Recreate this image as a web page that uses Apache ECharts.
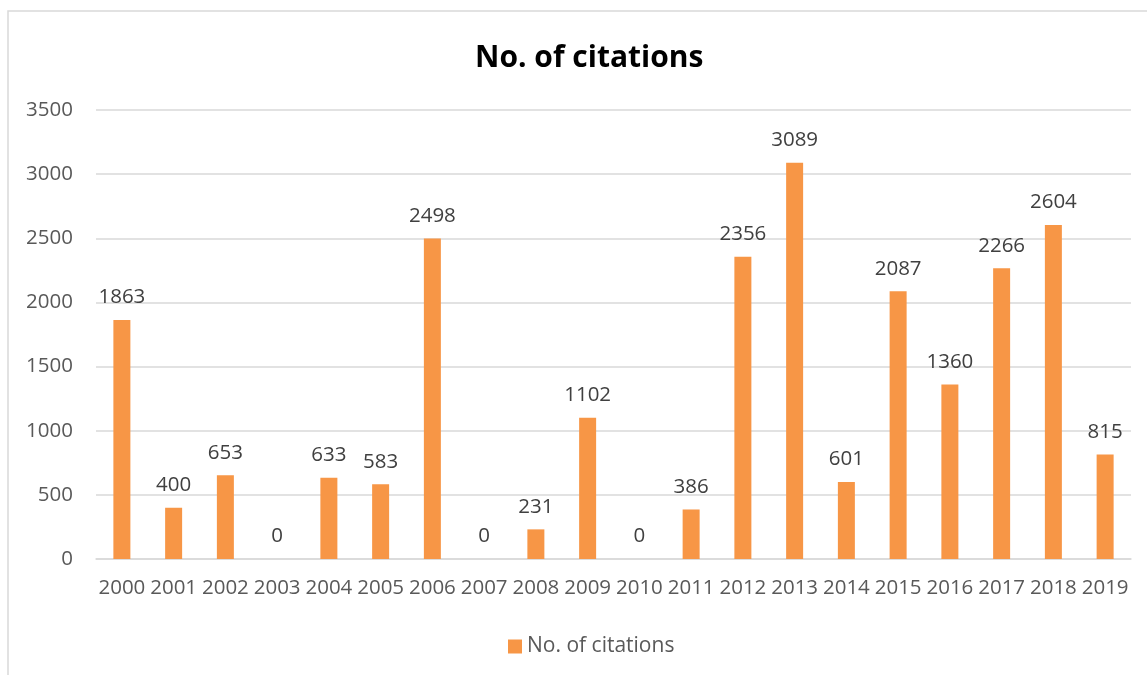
<!DOCTYPE html>
<html>
<head>
<meta charset="utf-8">
<script src="https://cdn.jsdelivr.net/npm/echarts@6/dist/echarts.min.js"></script>
<style>
  html, body { margin: 0; padding: 0; background: #fff; }
  #chart { width: 1147px; height: 675px; }
</style>
</head>
<body>
<div id="chart"></div>
<script>
// data
const years = ['2000', '2001', '2002', '2003', '2004', '2005', '2006', '2007', '2008', '2009',
  '2010', '2011', '2012', '2013', '2014', '2015', '2016', '2017', '2018', '2019'];
const citations = [1863, 400, 653, 0, 633, 583, 2498, 0, 231, 1102,
  0, 386, 2356, 3089, 601, 2087, 1360, 2266, 2604, 815];
const seriesName = 'No. of citations';

const FONT = '"Open Sans", sans-serif';

const chart = echarts.init(document.getElementById('chart'));
chart.setOption({
  animation: false,
  backgroundColor: '#fff',
  graphic: [{
    type: 'polyline',
    shape: { points: [[8, 700], [8, 11], [1160, 11]] },
    style: { stroke: '#d9d9d9', lineWidth: 1.5, fill: null }
  }],
  title: {
    text: 'No. of citations',
    left: 470,
    top: 38,
    textStyle: { fontFamily: FONT, fontSize: 30, fontWeight: 'bold', color: '#000' }
  },
  legend: {
    bottom: 13,
    left: 503,
    itemWidth: 14,
    itemHeight: 14,
    itemGap: 6,
    icon: 'rect',
    textStyle: { fontFamily: FONT, fontSize: 21, color: '#595959' },
    data: [seriesName]
  },
  grid: { left: 96, right: 16, top: 110, bottom: 116 },
  xAxis: {
    type: 'category',
    data: years,
    axisLine: { lineStyle: { color: '#d9d9d9', width: 1.5 } },
    axisTick: { show: false },
    axisLabel: { fontFamily: FONT, fontSize: 20.5, color: '#595959', margin: 19, interval: 0 }
  },
  yAxis: {
    type: 'value',
    min: 0,
    max: 3500,
    interval: 500,
    axisLine: { show: false },
    axisTick: { show: false },
    splitLine: { lineStyle: { color: '#d9d9d9', width: 1.5 } },
    axisLabel: { fontFamily: FONT, fontSize: 20.5, color: '#595959', margin: 23, formatter: v => String(v) }
  },
  series: [{
    name: seriesName,
    type: 'bar',
    data: citations,
    barWidth: 17,
    itemStyle: { color: '#F79646' },
    label: {
      show: true,
      position: 'top',
      distance: 12,
      fontFamily: FONT,
      fontSize: 20.5,
      color: '#404040'
    }
  }]
});
</script>
</body>
</html>
